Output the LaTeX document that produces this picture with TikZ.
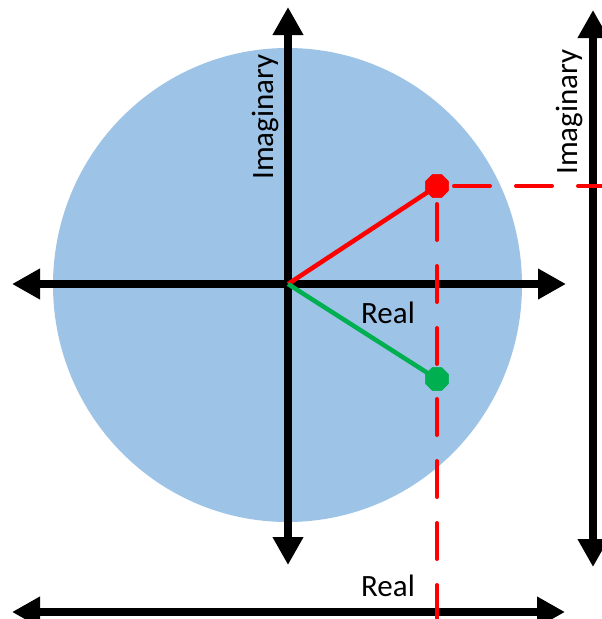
\documentclass[tikz,border=0pt]{standalone}
\usepackage{fontspec}
\setmainfont{Carlito}
\usetikzlibrary{arrows.meta,shapes.geometric}
\definecolor{disc}{RGB}{157,195,230}
\definecolor{ptred}{RGB}{255,0,0}
\definecolor{ptgreen}{RGB}{0,176,80}
\begin{document}
\begin{tikzpicture}[x=1pt,y=-1pt,
  axis/.style={line width=7.5pt,
    {Triangle[width=29pt,length=28pt]}-{Triangle[width=29pt,length=28pt]}},
  reddash/.style={draw=ptred,line width=4pt,line cap=round,dash pattern=on 36pt off 26pt},
  vec/.style={line width=4.5pt},
  dotnode/.style={regular polygon,regular polygon sides=8,minimum size=25pt,inner sep=0pt,draw=none},
  lbl/.style={inner sep=0pt,font=\fontsize{31}{37}\selectfont}]
\useasboundingbox (0,0) rectangle (602,619);
% disc
\fill[disc] (287.5,285) ellipse [x radius=234.5, y radius=237];
% coordinates
\coordinate (O) at (288,284);
\coordinate (vT) at (288,7);
\coordinate (vB) at (288,565);
\coordinate (hL) at (12,284);
\coordinate (hR) at (566,284);
\coordinate (rT) at (593,10);
\coordinate (rB) at (593,567);
\coordinate (bL) at (12,612);
\coordinate (bR) at (565,612);
\coordinate (hEnd) at (604,186);
\coordinate (vEnd) at (437,622);
% axes
\draw[axis] (vB) -- (vT);
\draw[axis] (hL) -- (hR);
\draw[axis] (rB) -- (rT);
\draw[axis] (bL) -- (bR);
% points
\node[dotnode,fill=ptred] (R) at (437,186) {};
\node[dotnode,fill=ptgreen] (G) at (437,379) {};
% dashed projections
\draw[reddash] ([xshift=17pt]R.center) -- (hEnd);
\draw[reddash] ([yshift=-18pt]R.center) -- ([yshift=7pt]G.center);
\draw[reddash] ([yshift=-20pt]G.center) -- (vEnd);
% vectors
\draw[vec,ptred] (O) -- (R.center);
\draw[vec,ptgreen] (O) -- (G.center);
\node[dotnode,fill=ptred] at (R) {};
\node[dotnode,fill=ptgreen] at (G) {};
% labels
\node[lbl,anchor=base] (re1) at (388,323) {Real};
\node[lbl,anchor=base] (re2) at (388,596) {Real};
\node[lbl,rotate=90,anchor=base west] (im1) at (273,180) {Imaginary};
\node[lbl,rotate=90,anchor=base west] (im2) at (577,175) {Imaginary};
\end{tikzpicture}
\end{document}
